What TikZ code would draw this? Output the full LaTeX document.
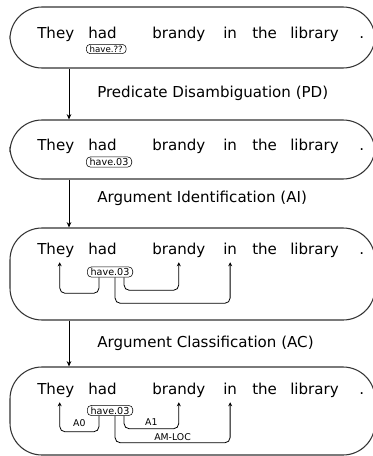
\documentclass[tikz,border=0pt]{standalone}
\usepackage{fontspec}
\setmainfont{DejaVu Sans}
\usetikzlibrary{arrows.meta}

\begin{document}
\begin{tikzpicture}[x=0.75pt, y=-0.75pt,
        stage/.style={draw=black!80, line width=0.8pt, rounded corners=24pt,
                      minimum width=273.75pt},
        word/.style={anchor=base west, inner xsep=0pt, inner ysep=3.5pt,
                     text depth=0.25em, font=\fontsize{11.3}{13}\selectfont},
        task/.style={anchor=base west, inner sep=0pt,
                     font=\fontsize{11.3}{13}\selectfont},
        pred/.style={draw, rounded corners=3pt, anchor=west, inner xsep=2.5pt,
                     inner ysep=1pt, font=\fontsize{7.2}{8}\selectfont},
        lab/.style={above, inner sep=1pt, font=\fontsize{7}{8}\selectfont},
        flow/.style={line width=0.6pt, -{Stealth[length=4pt,width=3.5pt]}},
        arg/.style={line width=0.6pt, rounded corners=4pt,
                    -{Stealth[length=3pt,width=3pt]}}
      ]
        \useasboundingbox (0,0) rectangle (373,456);
        % the four stages
        \node[stage, minimum height=45.75pt] at (192.5,37.5) (s1) {};
        \node[stage, minimum height=44.25pt] at (192.5,149.5) (s2) {};
        \node[stage, minimum height=69pt] at (192.5,274) (s3) {};
        \node[stage, minimum height=66pt] at (192.5,411) (s4) {};
        \foreach \s/\b in {1/39,2/151,3/254,4/394}
          \foreach \w/\x [count=\i] in {They/37,had/88,brandy/152,in/223,
                                        the/252,library/290,./359}
            \node[word] at (\x,\b) (w\s-\i) {\w};
        \node[pred, font=\fontsize{6.5}{7}\selectfont] at (86,49) (p1) {have.??};
        \node[pred] at (86,162) (p2) {have.03};
        \node[pred] at (87,272) (p3) {have.03};
        \node[pred] at (87,410.5) (p4) {have.03};
        % steps between the stages
        \coordinate (ax) at (69,0);
        \node[task] at (97,97.7) (t1) {Predicate Disambiguation (PD)};
        \node[task] at (97,202) (t2) {Argument Identification (AI)};
        \node[task] at (97,347) (t3) {Argument Classification (AC)};
        \draw[flow] (s1.south -| ax) -- (s2.north -| ax);
        \draw[flow] (s2.south -| ax) -- (s3.north -| ax);
        \draw[flow] (s3.south -| ax) -- (s4.north -| ax);
        % AI: unlabelled arguments
        \draw[arg] ([xshift=-8.25pt]p3.south) -- ++(0,16)
              -| ([xshift=3pt]w3-1.south);
        \draw[arg] ([xshift=10.5pt]p3.south) -- ++(0,13) -| (w3-3.south);
        \draw[arg] ([xshift=3.75pt]p3.south) -- ++(0,26) -| (w3-4.south);
        % AC: labelled arguments
        \draw[arg] ([xshift=-8.25pt]p4.south) -- ++(0,16)
              -| node[lab, pos=0.25, yshift=2.5pt] {A0} ([xshift=3pt]w4-1.south);
        \draw[arg] ([xshift=10.5pt]p4.south) -- ++(0,13)
              -| node[lab, pos=0.25, yshift=1pt] {A1} (w4-3.south);
        \draw[arg] ([xshift=3.75pt]p4.south) -- ++(0,27)
              -| node[lab, pos=0.25] {AM-LOC} (w4-4.south);
      \end{tikzpicture}
\end{document}
